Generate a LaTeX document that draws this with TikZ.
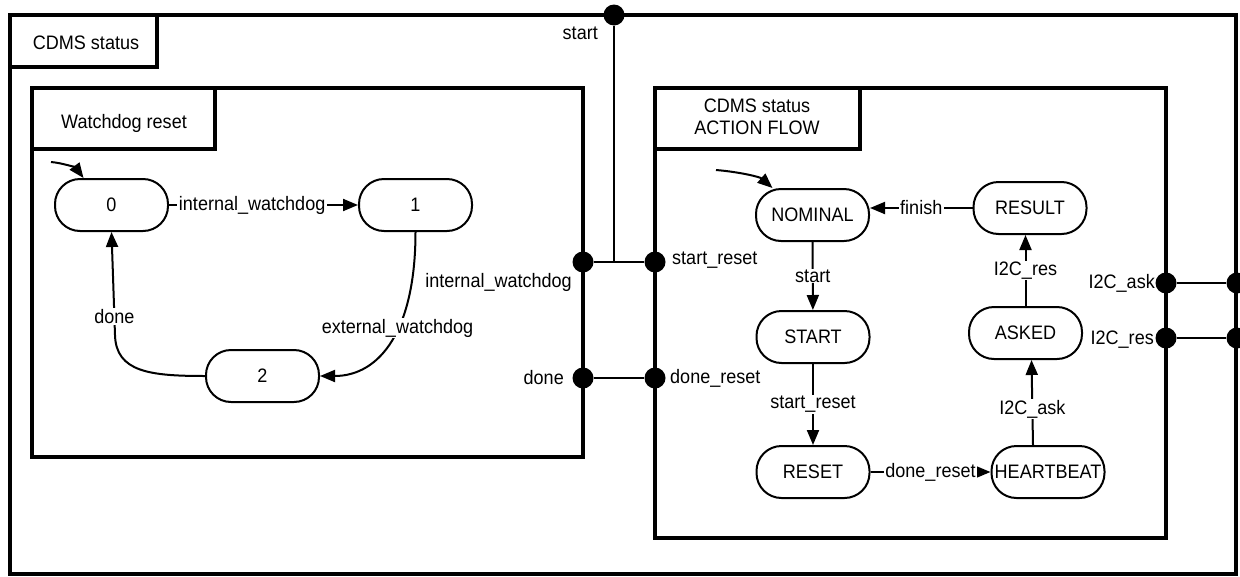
\documentclass[tikz,border=0pt]{standalone}
\usepackage{fontspec}
\setmainfont{Liberation Sans}[FakeStretch=0.925]
\usetikzlibrary{arrows.meta}
\begin{document}
\begin{tikzpicture}[x=1pt,y=-1pt,
  frame/.style={draw, line width=4.6pt},
  state/.style={draw, line width=2pt, rounded corners=25pt, minimum width=113pt, minimum height=52pt, inner xsep=0pt, font=\fontsize{19.5}{22}\selectfont},
  lab/.style={fill=white, inner xsep=1.5pt, inner ysep=1pt, font=\fontsize{19.5}{22}\selectfont},
  txt/.style={inner sep=0pt, font=\fontsize{19.5}{22}\selectfont},
  tr/.style={line width=2pt, -{Triangle[length=15pt,width=12pt]}},
  port/.style={circle, fill, inner sep=0pt, minimum size=21pt},
  wire/.style={line width=2pt}
]
\fill[white] (0,0) rectangle (1240,576);
\useasboundingbox (0,0) rectangle (1240,576);

% frames
\draw[frame] (10,15) rectangle (1236,574);
\draw[frame] (10,15) rectangle (157,67);
\node[txt] (tcdms) at (86,43) {CDMS status};

\draw[frame] (32,88) rectangle (583,457);
\draw[frame] (32,88) rectangle (215,149);
\node[txt] (twd) at (124,123) {Watchdog reset};

\draw[frame] (655,88) rectangle (1166,538);
\draw[frame] (655,88) rectangle (860,149);
\node[txt, align=center] (taf) at (757,117) {CDMS status\\ACTION FLOW};

% states
\node[state] (s0) at (111.5,205) {0};
\node[state] (s1) at (415.5,205) {1};
\node[state] (s2) at (262.5,376) {2};
\node[state] (nom) at (812.5,215) {NOMINAL};
\node[state] (st) at (813,337) {START};
\node[state] (rs) at (813,472) {RESET};
\node[state] (hb) at (1048,472) {HEARTBEAT};
\node[state] (ask) at (1025.5,333) {ASKED};
\node[state] (res) at (1030,208) {RESULT};

% wires and ports
\coordinate (j) at (614,262);
\node[port] (sp) at (614,15) {};
\node[port] (wi) at (583,262) {};
\node[port] (wd) at (583,378) {};
\node[port] (ai) at (655,262) {};
\node[port] (ad) at (655,378) {};
\node[port] (aa) at (1166,283) {};
\node[port] (ar) at (1166,338) {};
\node[port] (oa) at (1237,283) {};
\node[port] (or) at (1237,338) {};
\draw[wire] (sp) -- (j);
\draw[wire] (wi) -- (ai);
\draw[wire] (wd) -- (ad);
\draw[wire] (aa) -- (oa);
\draw[wire] (ar) -- (or);

% port labels
\node[txt, anchor=east] (lstart) at (598,33) {start};
\node[txt, anchor=east] (liw) at (572,282) {internal\_watchdog};
\node[txt, anchor=east] (ldone) at (564,378) {done};
\node[txt, anchor=west] (lsr) at (672,260) {start\_reset};
\node[txt, anchor=west] (ldr) at (670,378) {done\_reset};
\node[txt, anchor=east] (lia) at (1155,283) {I2C\_ask};
\node[txt, anchor=east] (lir) at (1154,340) {I2C\_res};

% watchdog transitions
\coordinate (i0) at (51,162);
\draw[tr] (i0) .. controls (63,163) and (76,168) .. ([xshift=-28pt]s0.north);
\draw[tr] (s0) -- node[lab, pos=0.44]{internal\_watchdog} (s1);
\draw[tr] (s1.south) .. controls (415.5,330) and (380,376) .. node[lab, pos=0.42]{external\_watchdog} (s2.east);
\draw[tr] (s2.west) .. controls (150,376) and (116,372) .. (115,335) -- node[lab, pos=0.18]{done} (s0.south);

% action flow transitions
\coordinate (i1) at (716,170);
\draw[tr] (i1) .. controls (740,172) and (760,177) .. ([xshift=-40pt]nom.north);
\draw[tr] (nom) -- node[lab]{start} (st);
\draw[tr] (st) -- node[lab]{start\_reset} (rs);
\draw[tr] (rs) -- node[lab]{done\_reset} (hb);
\draw[tr] ([xshift=-15pt]hb.north) -- node[lab, pos=0.42]{I2C\_ask} ([xshift=6pt]ask.south);
\draw[tr] (ask.north) -- node[lab]{I2C\_res} (ask.north |- res.south);
\draw[tr] (res.west) -- node[lab]{finish} (res.west -| nom.east);
\end{tikzpicture}
\end{document}
